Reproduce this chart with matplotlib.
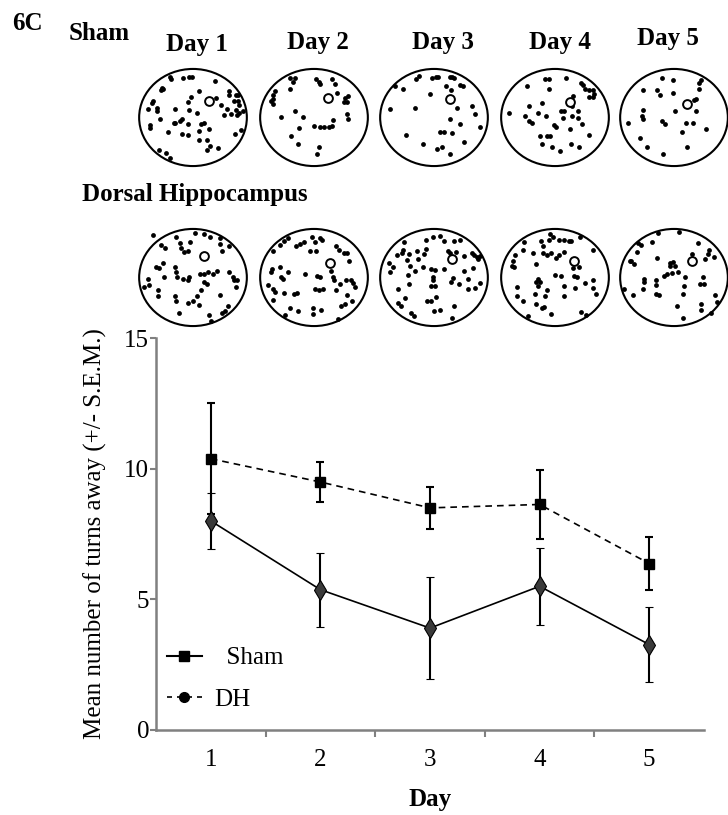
import numpy as np
import matplotlib.pyplot as plt
from matplotlib.patches import Ellipse
from matplotlib.lines import Line2D

plt.rcParams['font.family'] = ['Liberation Serif', 'DejaVu Serif']

# --- data ---
days = [1, 2, 3, 4, 5]
sham_mean = [10.38, 9.49, 8.50, 8.63, 6.37]
sham_sem = [2.12, 0.78, 0.80, 1.33, 1.00]
dh_mean = [8.00, 5.37, 3.90, 5.50, 3.27]
dh_sem = [1.08, 1.41, 1.95, 1.47, 1.45]
y_ticks = [0, 5, 10, 15]

# swim-path dots per pool, unit-circle coords (x right, y up)
sham_day1 = [(-0.43, 0.84), (-0.41, 0.79), (-0.18, 0.82), (-0.08, 0.83), (-0.01, 0.83),
             (0.40, 0.75), (-0.58, 0.60), (-0.55, 0.58), (-0.60, 0.56), (0.67, 0.54),
             (0.66, 0.47), (0.80, 0.46), (0.84, 0.46), (0.11, 0.54), (-0.04, 0.42),
             (0.43, 0.41), (-0.09, 0.31), (-0.74, 0.34), (-0.77, 0.29), (0.77, 0.34),
             (0.83, 0.34), (0.85, 0.26), (0.52, 0.26), (0.63, 0.18), (0.71, 0.08),
             (0.79, 0.16), (0.85, 0.09), (0.81, 0.06), (0.92, 0.14), (-0.83, 0.18),
             (-0.67, 0.19), (-0.66, 0.13), (-0.33, 0.18), (-0.08, 0.15), (0.08, 0.09),
             (0.58, 0.05), (-0.61, -0.04), (-0.20, -0.03), (-0.25, -0.07), (-0.33, -0.11),
             (-0.36, -0.12), (-0.09, -0.13), (0.14, -0.13), (0.21, -0.11), (0.29, -0.24),
             (-0.79, -0.15), (-0.80, -0.22), (-0.46, -0.29), (-0.20, -0.35), (-0.10, -0.36),
             (0.12, -0.27), (0.89, -0.26), (0.78, -0.35), (0.12, -0.47), (0.26, -0.47),
             (0.31, -0.59), (0.26, -0.66), (0.46, -0.62), (-0.63, -0.67), (-0.51, -0.74),
             (-0.43, -0.84)]
sham_day2 = [(-0.45, 0.82), (-0.39, 0.74), (-0.36, 0.81), (0.03, 0.79), (0.09, 0.74),
             (0.12, 0.69), (0.33, 0.79), (0.39, 0.69), (0.42, 0.51), (-0.45, 0.59),
             (-0.73, 0.55), (-0.76, 0.47), (-0.77, 0.39), (-0.79, 0.34), (-0.76, 0.27),
             (0.58, 0.41), (0.64, 0.44), (0.61, 0.31), (0.55, 0.31), (0.61, 0.07),
             (0.64, -0.03), (-0.35, 0.14), (-0.21, 0.01), (-0.62, 0.01), (-0.27, -0.21),
             (0.00, -0.18), (0.12, -0.19), (0.18, -0.19), (0.27, -0.19), (0.33, -0.18),
             (0.35, -0.06), (-0.42, -0.38), (-0.30, -0.55), (0.10, -0.60), (0.05, -0.75)]
sham_day3 = [(-0.33, 0.80), (-0.27, 0.85), (-0.03, 0.82), (0.03, 0.83), (0.07, 0.83),
             (0.29, 0.83), (0.33, 0.83), (0.37, 0.82), (-0.73, 0.64), (-0.57, 0.59),
             (0.23, 0.64), (0.31, 0.56), (0.49, 0.66), (0.54, 0.64), (-0.07, 0.49),
             (-0.82, 0.18), (-0.36, 0.19), (0.43, 0.19), (0.70, 0.24), (0.77, 0.07),
             (0.29, -0.03), (0.48, -0.14), (0.85, -0.19), (-0.52, -0.37), (0.11, -0.29),
             (0.18, -0.29), (0.33, -0.32), (-0.20, -0.55), (0.05, -0.65), (0.15, -0.60),
             (0.30, -0.75), (0.55, -0.50)]
sham_day4 = [(-0.19, 0.79), (-0.11, 0.79), (0.21, 0.81), (0.49, 0.72), (0.52, 0.66),
             (0.55, 0.59), (0.64, 0.56), (0.70, 0.57), (0.73, 0.49), (0.64, 0.42),
             (0.71, 0.42), (-0.52, 0.64), (-0.11, 0.59), (0.33, 0.44), (-0.49, 0.24),
             (-0.25, 0.29), (0.32, 0.23), (-0.86, 0.09), (-0.55, 0.03), (-0.48, -0.07),
             (-0.43, -0.11), (-0.31, 0.09), (-0.16, 0.03), (0.11, 0.13), (0.17, 0.13),
             (0.43, 0.14), (0.15, -0.01), (0.32, 0.03), (0.43, -0.01), (-0.02, -0.16),
             (0.02, -0.19), (0.51, -0.14), (0.27, -0.23), (-0.28, -0.38), (-0.14, -0.38),
             (-0.10, -0.38), (0.64, -0.36), (-0.25, -0.55), (-0.05, -0.60), (0.10, -0.70),
             (0.30, -0.55), (0.45, -0.60)]
sham_day5 = [(-0.22, 0.82), (-0.01, 0.77), (0.50, 0.77), (0.47, 0.71), (0.46, 0.59),
             (-0.58, 0.56), (-0.32, 0.56), (-0.26, 0.46), (-0.02, 0.51), (0.41, 0.39),
             (0.38, 0.36), (0.41, 0.13), (-0.58, 0.16), (-0.60, 0.03), (-0.58, -0.04),
             (0.02, 0.13), (-0.22, -0.07), (-0.16, -0.14), (0.22, -0.11), (0.35, -0.11),
             (-0.85, -0.11), (0.59, -0.24), (0.14, -0.30), (-0.64, -0.42), (-0.50, -0.60),
             (-0.20, -0.75), (0.25, -0.60)]
dh_day1 = [(-0.75, 0.87), (-0.59, 0.67), (-0.52, 0.61), (-0.31, 0.84), (-0.25, 0.71),
           (-0.22, 0.61), (-0.17, 0.52), (-0.09, 0.54), (-0.05, 0.74), (0.03, 0.91),
           (0.21, 0.89), (0.31, 0.84), (0.50, 0.81), (0.51, 0.69), (0.66, 0.64),
           (0.54, 0.54), (-0.55, 0.29), (-0.69, 0.22), (-0.63, 0.19), (-0.34, 0.21),
           (-0.31, 0.11), (-0.29, 0.01), (-0.19, -0.03), (-0.10, -0.06), (-0.07, 0.01),
           (0.13, 0.07), (0.21, 0.07), (0.27, 0.11), (0.38, 0.07), (0.45, 0.14),
           (0.66, 0.11), (0.74, 0.01), (0.77, -0.06), (0.81, -0.06), (0.20, -0.09),
           (0.26, -0.13), (-0.83, -0.03), (-0.81, -0.15), (-0.65, -0.26), (-0.53, 0.01),
           (0.14, -0.26), (0.80, -0.19), (-0.91, -0.19), (-0.65, -0.39), (-0.34, -0.39),
           (0.08, -0.39), (0.50, -0.36), (-0.31, -0.49), (-0.09, -0.53), (0.00, -0.49),
           (0.12, -0.56), (-0.26, -0.73), (0.29, -0.77), (0.34, -0.89), (0.54, -0.73),
           (0.59, -0.69), (0.65, -0.59)]
dh_day2 = [(-0.76, 0.54), (-0.64, 0.67), (-0.55, 0.75), (-0.48, 0.81), (-0.34, 0.64),
           (-0.26, 0.69), (-0.19, 0.73), (-0.04, 0.84), (0.02, 0.74), (0.11, 0.81),
           (0.14, 0.77), (-0.07, 0.54), (0.04, 0.54), (0.41, 0.64), (0.47, 0.57),
           (0.56, 0.51), (0.62, 0.51), (0.65, 0.34), (-0.78, 0.17), (-0.80, 0.11),
           (-0.64, 0.21), (-0.61, 0.01), (-0.58, -0.03), (-0.49, 0.11), (-0.37, -0.33),
           (-0.31, -0.31), (-0.85, -0.16), (-0.76, -0.23), (-0.73, -0.29), (-0.55, -0.31),
           (-0.16, 0.07), (0.05, 0.04), (0.11, 0.01), (0.32, 0.14), (0.35, 0.01),
           (0.38, -0.06), (0.48, -0.13), (0.59, -0.06), (0.68, -0.06), (0.72, -0.11),
           (0.77, -0.19), (0.02, -0.23), (0.10, -0.26), (0.17, -0.23), (0.41, -0.26),
           (0.62, -0.36), (-0.76, -0.46), (-0.45, -0.63), (-0.29, -0.69), (-0.02, -0.63),
           (0.13, -0.66), (-0.01, -0.76), (-0.54, -0.78), (0.50, -0.59), (0.57, -0.54),
           (0.70, -0.49), (0.44, -0.86)]
dh_day3 = [(-0.56, 0.74), (-0.14, 0.77), (-0.02, 0.84), (0.12, 0.86), (0.19, 0.75),
           (0.38, 0.75), (0.49, 0.77), (-0.57, 0.57), (-0.59, 0.51), (-0.47, 0.49),
           (-0.32, 0.54), (-0.18, 0.49), (-0.14, 0.59), (-0.68, 0.46), (-0.50, 0.37),
           (-0.29, 0.39), (0.26, 0.55), (0.30, 0.51), (0.40, 0.53), (0.55, 0.44),
           (0.70, 0.51), (0.74, 0.46), (0.79, 0.42), (0.82, 0.39), (0.86, 0.44),
           (-0.83, 0.29), (-0.77, 0.21), (-0.81, 0.11), (-0.44, 0.24), (-0.35, 0.13),
           (-0.20, 0.22), (-0.06, 0.17), (0.01, 0.15), (0.19, 0.17), (-0.48, 0.06),
           (-0.02, 0.01), (-0.02, -0.05), (0.36, -0.01), (0.32, -0.09), (0.56, 0.14),
           (0.72, 0.19), (0.64, -0.03), (0.46, -0.13), (0.86, -0.11), (-0.47, -0.14),
           (-0.66, -0.23), (-0.05, -0.18), (0.01, -0.18), (0.64, -0.23), (0.76, -0.21),
           (-0.53, -0.43), (0.04, -0.41), (-0.67, -0.53), (-0.62, -0.59), (-0.42, -0.74),
           (-0.38, -0.79), (-0.13, -0.49), (-0.06, -0.49), (0.00, -0.69), (0.12, -0.67),
           (0.37, -0.58), (0.34, -0.83)]
dh_day4 = [(-0.58, 0.74), (-0.60, 0.57), (-0.26, 0.75), (-0.10, 0.89), (-0.04, 0.84),
           (-0.12, 0.77), (0.08, 0.77), (0.16, 0.77), (0.26, 0.75), (0.30, 0.75),
           (0.47, 0.84), (-0.22, 0.64), (-0.40, 0.51), (-0.22, 0.51), (-0.14, 0.46),
           (-0.08, 0.51), (0.02, 0.41), (0.08, 0.47), (0.17, 0.53), (0.71, 0.57),
           (-0.74, 0.46), (-0.78, 0.34), (-0.80, 0.24), (-0.76, 0.22), (-0.36, 0.27),
           (0.34, 0.19), (0.44, 0.21), (0.00, 0.06), (0.11, 0.04), (0.35, 0.04),
           (0.41, 0.01), (-0.31, -0.03), (-0.36, -0.09), (-0.28, -0.09), (-0.32, -0.18),
           (-0.14, -0.26), (-0.70, -0.19), (0.16, -0.18), (0.38, -0.21), (0.56, -0.11),
           (0.71, -0.06), (0.71, -0.21), (0.77, -0.33), (-0.71, -0.38), (-0.37, -0.33),
           (-0.19, -0.39), (0.17, -0.39), (-0.60, -0.49), (-0.35, -0.54), (-0.24, -0.63),
           (-0.21, -0.61), (-0.08, -0.76), (-0.51, -0.79), (0.48, -0.71), (0.57, -0.78)]
dh_day5 = [(-0.30, 0.91), (0.10, 0.93), (-0.66, 0.71), (-0.61, 0.66), (-0.40, 0.74),
           (-0.68, 0.53), (-0.82, 0.35), (-0.79, 0.33), (-0.74, 0.27), (0.44, 0.71),
           (0.34, 0.49), (0.65, 0.57), (0.63, 0.49), (0.74, 0.42), (0.57, 0.39),
           (-0.31, 0.41), (-0.08, 0.29), (-0.02, 0.31), (0.02, 0.24), (-0.07, 0.24),
           (-0.13, 0.07), (-0.18, 0.04), (-0.04, 0.09), (0.08, 0.11), (0.20, 0.02),
           (0.54, 0.02), (-0.56, -0.03), (-0.56, -0.09), (-0.34, -0.05), (-0.34, -0.16),
           (0.48, -0.13), (0.56, -0.14), (-0.92, -0.23), (-0.76, -0.36), (-0.58, -0.23),
           (-0.34, -0.33), (-0.28, -0.36), (0.18, -0.18), (0.17, -0.33), (0.77, -0.36),
           (0.06, -0.59), (0.16, -0.83), (0.50, -0.54), (0.50, -0.67), (0.68, -0.73),
           (0.79, -0.51)]
sham_platform = [(0.29, 0.34), (0.26, 0.41), (0.30, 0.38), (0.27, 0.32), (0.24, 0.27)]
dh_platform = [(0.21, 0.44), (0.29, 0.29), (0.34, 0.39), (0.35, 0.35), (0.34, 0.34)]

W, H = 728, 815
fig = plt.figure(figsize=(W / 100, H / 100), dpi=100)


def px_axes(x0, y0, w, h):
    return fig.add_axes([x0 / W, 1 - (y0 + h) / H, w / W, h / H])


def draw_pool(x0, y0, dots, platform):
    a = px_axes(x0, y0, 112, 101)
    a.set_xlim(-1.04, 1.04)
    a.set_ylim(-1.04, 1.04)
    a.axis('off')
    a.add_patch(Ellipse((0, 0), 2, 2, fill=False, lw=1.5, color='black'))
    xs, ys = zip(*dots)
    a.scatter(xs, ys, s=12, color='black', lw=0)
    a.scatter([platform[0]], [platform[1]], s=40, facecolor='white',
              edgecolor='black', lw=1.4, zorder=3)


pool_left = [137, 258, 378, 499, 618]
sham_pools = [sham_day1, sham_day2, sham_day3, sham_day4, sham_day5]
dh_pools = [dh_day1, dh_day2, dh_day3, dh_day4, dh_day5]
for i in range(5):
    draw_pool(pool_left[i], 67, sham_pools[i], sham_platform[i])
    draw_pool(pool_left[i], 227, dh_pools[i], dh_platform[i])

# titles
bold = dict(fontweight='bold', fontsize=18, ha='center', va='center')
fig.text(27 / W, 1 - 24 / H, '6C', **bold)
fig.text(99 / W, 1 - 34 / H, 'Sham', **bold)
day_x = [197, 318, 443, 560, 668]
day_y = [44, 43, 42, 42, 39]
for d, x, y in zip(days, day_x, day_y):
    fig.text(x / W, 1 - y / H, f'Day {d}', **bold)
fig.text(195 / W, 1 - 195 / H, 'Dorsal Hippocampus', **bold)

# --- main plot ---
ax = px_axes(156, 338, 548, 392)
ax.errorbar(days, sham_mean, yerr=sham_sem, color='black', ls=(0, (4, 3)), lw=1.2,
            marker='s', markersize=7, mfc='black', mec='black',
            elinewidth=1.5, capsize=3, capthick=1.5, zorder=3)
ax.errorbar(days, dh_mean, yerr=dh_sem, color='black', ls='-', lw=1.2,
            marker='d', markersize=10, mfc='#3a3a3a', mec='black', mew=0.8,
            elinewidth=1.5, capsize=3, capthick=1.5, zorder=3)

ax.set_xlim(0.5, 5.5)
ax.set_ylim(0, 15)
ax.set_yticks(y_ticks)
ax.set_xticks([1.5, 2.5, 3.5, 4.5])
ax.set_xticklabels([])
ax.set_xticks(days, minor=True)
ax.set_xticklabels([str(d) for d in days], minor=True)
ax.tick_params(axis='x', which='minor', length=0, pad=14, labelsize=18)
ax.tick_params(axis='x', which='major', length=5, width=1.5, color='#808080', direction='out')
ax.tick_params(axis='y', length=4, width=1.5, color='#808080', labelsize=18, pad=1)
for s in ['top', 'right']:
    ax.spines[s].set_visible(False)
for s in ['left', 'bottom']:
    ax.spines[s].set_color('#808080')
    ax.spines[s].set_linewidth(1.8)

ax.set_xlabel('Day', fontsize=18, fontweight='bold', labelpad=12)
ax.set_ylabel('Mean number of turns away (+/- S.E.M.)', fontsize=18, labelpad=12)

handles = [Line2D([], [], color='black', ls='-', lw=1.5, marker='s', markersize=7),
           Line2D([], [], color='black', ls=(0, (3, 3)), lw=1.2, marker='o', markersize=7)]
ax.legend(handles, ['  Sham', 'DH'], loc='center left', bbox_to_anchor=(0.02, 0.131),
          frameon=False, fontsize=18, handlelength=1.4, handletextpad=0.5,
          labelspacing=0.75, borderpad=0, borderaxespad=0)

fig.savefig('out.png', dpi=100)
